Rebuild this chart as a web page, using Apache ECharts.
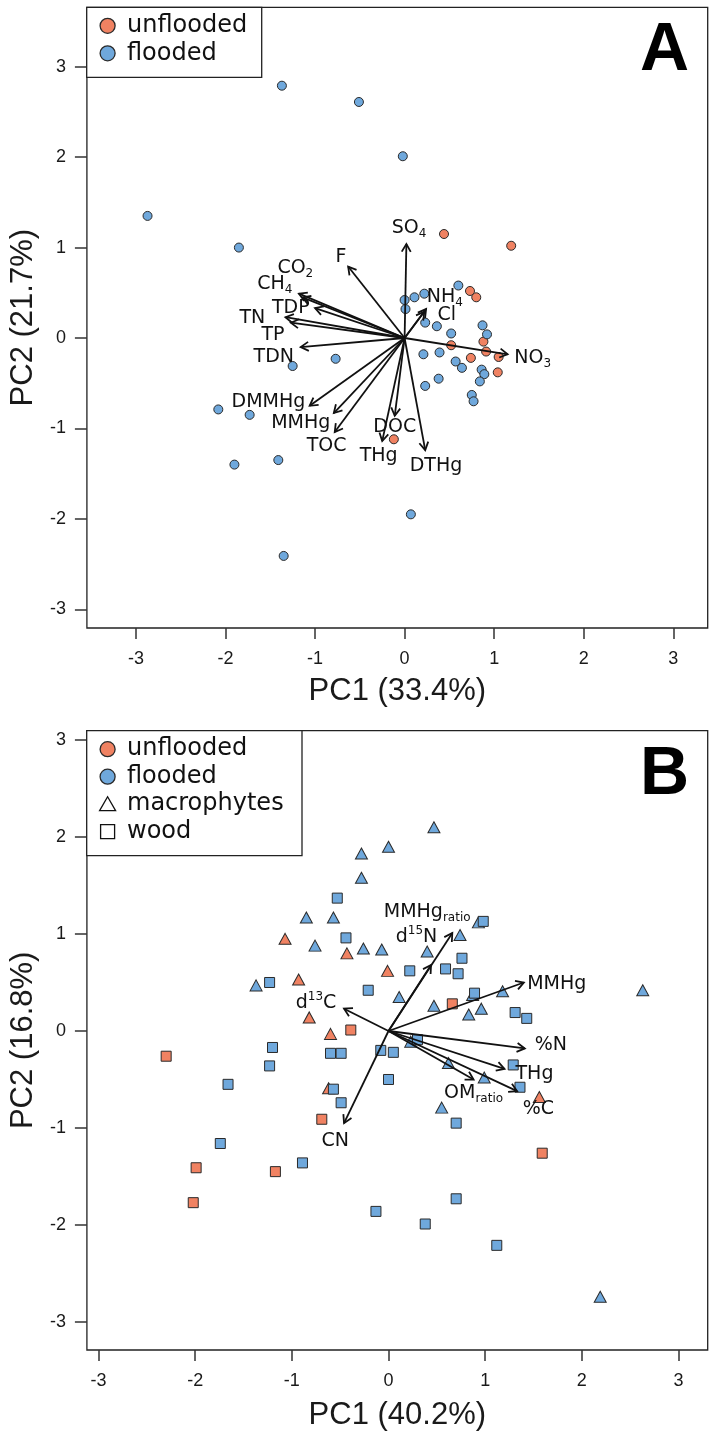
<!DOCTYPE html>
<html>
<head>
<meta charset="utf-8">
<script src="https://cdn.jsdelivr.net/npm/echarts@6/dist/echarts.min.js"></script>
<style>
  html, body { margin: 0; padding: 0; background: #fff; }
  #chart { width: 713px; height: 1437px; }
</style>
</head>
<body>
<div id="chart"></div>
<script>
// ---------- Panel A: water chemistry PCA (site scores + variable loadings) ----------
const aUnflooded = [
  [0.44, 1.15], [1.19, 1.02], [0.73, 0.52], [0.80, 0.45], [0.88, -0.04],
  [0.52, -0.08], [0.91, -0.15], [1.05, -0.21], [0.74, -0.22], [1.04, -0.38],
  [-0.12, -1.12]
];
const aFlooded = [
  [-1.37, 2.79], [-0.51, 2.61], [-0.02, 2.01], [-2.87, 1.35], [-1.85, 1.00],
  [0.60, 0.58], [0.22, 0.49], [0.11, 0.45], [0.00, 0.42], [0.01, 0.32],
  [0.23, 0.17], [0.36, 0.13], [0.52, 0.05], [0.87, 0.14], [0.92, 0.04],
  [0.21, -0.18], [0.39, -0.16], [0.57, -0.26], [0.64, -0.33], [0.86, -0.35],
  [0.89, -0.40], [0.84, -0.48], [0.38, -0.45], [0.23, -0.53], [-0.77, -0.23],
  [-1.25, -0.31], [0.75, -0.63], [0.77, -0.70], [-2.08, -0.79], [-1.73, -0.85],
  [-1.90, -1.40], [-1.41, -1.35], [0.07, -1.95], [-1.35, -2.41]
];
const aVarLabels = [
  'SO{s|4}', 'F', 'CO{s|2}', 'CH{s|4}', 'TDP', 'TN', 'TP', 'TDN', 'NH{s|4}', 'Cl',
  'NO{s|3}', 'DMMHg', 'MMHg', 'TOC', 'DOC', 'THg', 'DTHg'
];
const aLoadings = [
  [0.02, 1.04], [-0.63, 0.79], [-1.18, 0.49], [-1.14, 0.45], [-1.00, 0.33],
  [-1.33, 0.23], [-1.27, 0.17], [-1.16, -0.10], [0.24, 0.32], [0.22, 0.29],
  [1.15, -0.18], [-1.06, -0.75], [-0.79, -0.83], [-0.78, -1.04], [-0.11, -0.86],
  [-0.25, -1.14], [0.23, -1.24]
];
const aLabelAt = [
  [0.05, 1.22], [-0.71, 0.90], [-1.22, 0.77], [-1.45, 0.60], [-1.27, 0.33],
  [-1.70, 0.22], [-1.47, 0.03], [-1.46, -0.21], [0.45, 0.45], [0.47, 0.25],
  [1.43, -0.22], [-1.52, -0.71], [-1.16, -0.94], [-0.87, -1.19], [-0.11, -0.98],
  [-0.29, -1.31], [0.35, -1.42]
];

// ---------- Panel B: plant tissue PCA ----------
const bUnfloodedMacrophytes = [
  [-1.07, 0.95], [-0.43, 0.80], [-0.01, 0.62], [-0.93, 0.53], [-0.82, 0.14],
  [-0.60, -0.03], [1.56, -0.68], [-0.62, -0.59]
];
const bUnfloodedWood = [
  [0.66, 0.28], [-0.39, 0.01], [-2.30, -0.26], [-0.69, -0.91], [1.59, -1.26],
  [-1.99, -1.41], [-1.17, -1.45], [-2.02, -1.77]
];
const bFloodedMacrophytes = [
  [0.47, 2.10], [0.00, 1.90], [-0.28, 1.83], [-0.28, 1.58], [-0.85, 1.17],
  [-0.57, 1.17], [0.93, 1.12], [0.74, 0.99], [-0.76, 0.88], [-0.26, 0.85],
  [-0.07, 0.84], [0.40, 0.82], [-1.37, 0.47], [0.11, 0.35], [0.87, 0.37],
  [1.18, 0.41], [2.63, 0.42], [0.47, 0.26], [0.83, 0.17], [0.96, 0.23],
  [0.23, -0.11], [0.62, -0.33], [0.99, -0.48], [0.55, -0.79], [2.19, -2.74]
];
const bFloodedWood = [
  [-0.53, 1.37], [0.98, 1.13], [-0.44, 0.96], [0.76, 0.75], [0.59, 0.64],
  [0.72, 0.59], [0.22, 0.62], [-1.23, 0.50], [-0.21, 0.42], [0.89, 0.39],
  [1.31, 0.19], [1.43, 0.13], [-1.20, -0.17], [-0.60, -0.23], [-0.49, -0.23],
  [-0.08, -0.20], [0.05, -0.22], [0.30, -0.09], [-1.23, -0.36], [1.29, -0.35],
  [0.00, -0.50], [1.36, -0.58], [-1.66, -0.55], [-0.57, -0.60], [-0.49, -0.74],
  [0.70, -0.95], [-1.74, -1.16], [-0.89, -1.36], [0.70, -1.73], [-0.13, -1.86],
  [0.38, -1.99], [1.12, -2.21]
];
const bVarLabels = [
  'MMHg{s|ratio}', 'd{p|15}N', 'MMHg', 'd{p|13}C', '%N', 'THg', '%C', 'OM{s|ratio}', 'CN'
];
const bLoadings = [
  [0.66, 1.01], [0.44, 0.68], [1.40, 0.50], [-0.46, 0.23], [1.41, -0.18],
  [1.20, -0.39], [1.33, -0.62], [0.88, -0.50], [-0.46, -0.95]
];
const bLabelAt = [
  [0.40, 1.23], [0.29, 0.97], [1.74, 0.48], [-0.75, 0.29], [1.68, -0.14],
  [1.51, -0.44], [1.55, -0.80], [0.88, -0.64], [-0.55, -1.14]
];

const tickValues = [-3, -2, -1, 0, 1, 2, 3];
const axisTitles = {
  ax: 'PC1 (33.4%)', ay: 'PC2 (21.7%)',
  bx: 'PC1 (40.2%)', by: 'PC2 (16.8%)'
};

const ORANGE = '#F08262';
const BLUE = '#6FA8DC';
const EDGE = '#2a2a2a';
const INK = '#111';
const SANS = '"Liberation Sans", Arial, Helvetica, sans-serif';
const VERD = '"DejaVu Sans", Verdana, sans-serif';

const rich = {
  s: { fontSize: 12, fontFamily: VERD, lineHeight: 12, verticalAlign: 'bottom', fill: INK },
  p: { fontSize: 12, fontFamily: VERD, lineHeight: 12, verticalAlign: 'top', fill: INK }
};

function arrowRenderer(params, api) {
  const o = api.coord([0, 0]);
  const t = api.coord([api.value(0), api.value(1)]);
  const ang = Math.atan2(t[1] - o[1], t[0] - o[0]);
  const L = 9, W = Math.PI / 6;
  const h1 = [t[0] - L * Math.cos(ang - W), t[1] - L * Math.sin(ang - W)];
  const h2 = [t[0] - L * Math.cos(ang + W), t[1] - L * Math.sin(ang + W)];
  return {
    type: 'group',
    children: [
      { type: 'line', shape: { x1: o[0], y1: o[1], x2: t[0], y2: t[1] },
        style: { stroke: INK, lineWidth: 1.8 } },
      { type: 'polyline', shape: { points: [h1, t, h2] },
        style: { stroke: INK, lineWidth: 1.8, fill: null } }
    ]
  };
}

function labelRenderer(texts) {
  return function (params, api) {
    const p = api.coord([api.value(0), api.value(1)]);
    return {
      type: 'text', x: p[0], y: p[1],
      style: {
        text: texts[params.dataIndex], align: 'center', verticalAlign: 'middle',
        fontSize: 19, fontFamily: VERD, lineHeight: 24, fill: INK, rich: rich
      }
    };
  };
}

function xAxisCfg(gridIndex, min, max, name, gap) {
  return {
    type: 'value', gridIndex, min, max, name, nameLocation: 'middle', nameGap: gap,
    nameTextStyle: { fontFamily: SANS, fontSize: 31, color: '#1a1a1a' },
    splitLine: { show: false }, axisLine: { show: false, onZero: false },
    axisTick: { show: true, length: 11, customValues: tickValues, lineStyle: { color: '#333', width: 1.5 } },
    axisLabel: { customValues: tickValues, margin: 22, fontFamily: SANS, fontSize: 18, color: '#1a1a1a' }
  };
}
function yAxisCfg(gridIndex, min, max, name) {
  return {
    type: 'value', gridIndex, min, max, name, nameLocation: 'middle', nameGap: 40,
    nameTextStyle: { fontFamily: SANS, fontSize: 31, color: '#1a1a1a' },
    splitLine: { show: false }, axisLine: { show: false, onZero: false },
    axisTick: { show: true, length: 12, customValues: tickValues, lineStyle: { color: '#333', width: 1.5 } },
    axisLabel: { customValues: tickValues, margin: 21, fontFamily: SANS, fontSize: 18, color: '#1a1a1a' }
  };
}

function scatter(data, xi, symbol, size, color) {
  return {
    type: 'scatter', xAxisIndex: xi, yAxisIndex: xi, data, symbol, symbolSize: size,
    itemStyle: { color, borderColor: EDGE, borderWidth: 1, opacity: 1 },
    z: 2, emphasis: { disabled: true }
  };
}

// Legend boxes drawn in the corner of each panel
function legendGraphics(top, entries, right) {
  const rowH = 27.5, first = top + 18.5, mx = 107.6;
  const els = [{
    type: 'rect', shape: { x: 86.7, y: top, width: right - 86.7, height: entries.length * rowH + 15 },
    style: { fill: '#fff', stroke: '#222', lineWidth: 1.3 }, z: 50
  }];
  entries.forEach((e, i) => {
    const cy = first + i * rowH;
    if (e.shape === 'circle') {
      els.push({ type: 'circle', shape: { cx: mx, cy, r: 7.5 },
        style: { fill: e.color, stroke: EDGE, lineWidth: 1.3 }, z: 51 });
    } else if (e.shape === 'triangle') {
      els.push({ type: 'polygon', shape: { points: [[mx, cy - 7.5], [mx + 8, cy + 6.5], [mx - 8, cy + 6.5]] },
        style: { fill: '#fff', stroke: '#111', lineWidth: 1.3 }, z: 51 });
    } else {
      els.push({ type: 'rect', shape: { x: mx - 7, y: cy - 7, width: 14, height: 14 },
        style: { fill: '#fff', stroke: '#111', lineWidth: 1.3 }, z: 51 });
    }
    els.push({ type: 'text', x: 127, y: cy,
      style: { text: e.text, fontFamily: VERD, fontSize: 24, fill: '#111', verticalAlign: 'middle', align: 'left' }, z: 51 });
  });
  return els;
}

const chart = echarts.init(document.getElementById('chart'), null, { renderer: 'canvas' });
chart.setOption({
  animation: false,
  backgroundColor: '#fff',
  grid: [
    { left: 86.7, top: 7.3, width: 621, height: 620.7, show: true, borderColor: '#222', borderWidth: 1.3, backgroundColor: 'transparent' },
    { left: 86.7, top: 730.7, width: 621, height: 619.3, show: true, borderColor: '#222', borderWidth: 1.3, backgroundColor: 'transparent' }
  ],
  xAxis: [
    xAxisCfg(0, -3.547, 3.384, axisTitles.ax, 48),
    xAxisCfg(1, -3.12, 3.302, axisTitles.bx, 50)
  ],
  yAxis: [
    yAxisCfg(0, -3.207, 3.657, axisTitles.ay),
    yAxisCfg(1, -3.289, 3.096, axisTitles.by)
  ],
  series: [
    scatter(aUnflooded, 0, 'circle', 9, ORANGE),
    scatter(aFlooded, 0, 'circle', 9, BLUE),
    { type: 'custom', xAxisIndex: 0, yAxisIndex: 0, data: aLoadings, encode: { x: 0, y: 1 },
      renderItem: arrowRenderer, z: 5, silent: true },
    { type: 'custom', xAxisIndex: 0, yAxisIndex: 0, data: aLabelAt, encode: { x: 0, y: 1 },
      renderItem: labelRenderer(aVarLabels), z: 6, silent: true },

    scatter(bUnfloodedMacrophytes, 1, 'triangle', [12, 11], ORANGE),
    scatter(bUnfloodedWood, 1, 'rect', 10, ORANGE),
    scatter(bFloodedMacrophytes, 1, 'triangle', [12, 11], BLUE),
    scatter(bFloodedWood, 1, 'rect', 10, BLUE),
    { type: 'custom', xAxisIndex: 1, yAxisIndex: 1, data: bLoadings, encode: { x: 0, y: 1 },
      renderItem: arrowRenderer, z: 5, silent: true },
    { type: 'custom', xAxisIndex: 1, yAxisIndex: 1, data: bLabelAt, encode: { x: 0, y: 1 },
      renderItem: labelRenderer(bVarLabels), z: 6, silent: true }
  ],
  graphic: [
    ...legendGraphics(7.3, [
      { shape: 'circle', color: ORANGE, text: 'unflooded' },
      { shape: 'circle', color: BLUE, text: 'flooded' }
    ], 261.7),
    ...legendGraphics(730.7, [
      { shape: 'circle', color: ORANGE, text: 'unflooded' },
      { shape: 'circle', color: BLUE, text: 'flooded' },
      { shape: 'triangle', text: 'macrophytes' },
      { shape: 'square', text: 'wood' }
    ], 302),
    { type: 'text', x: 689, y: 51.3, z: 60,
      style: { text: 'A', fontFamily: SANS, fontWeight: 'bold', fontSize: 68, fill: '#000', align: 'right', verticalAlign: 'middle' } },
    { type: 'text', x: 689, y: 775, z: 60,
      style: { text: 'B', fontFamily: SANS, fontWeight: 'bold', fontSize: 68, fill: '#000', align: 'right', verticalAlign: 'middle' } }
  ]
});
</script>
</body>
</html>
